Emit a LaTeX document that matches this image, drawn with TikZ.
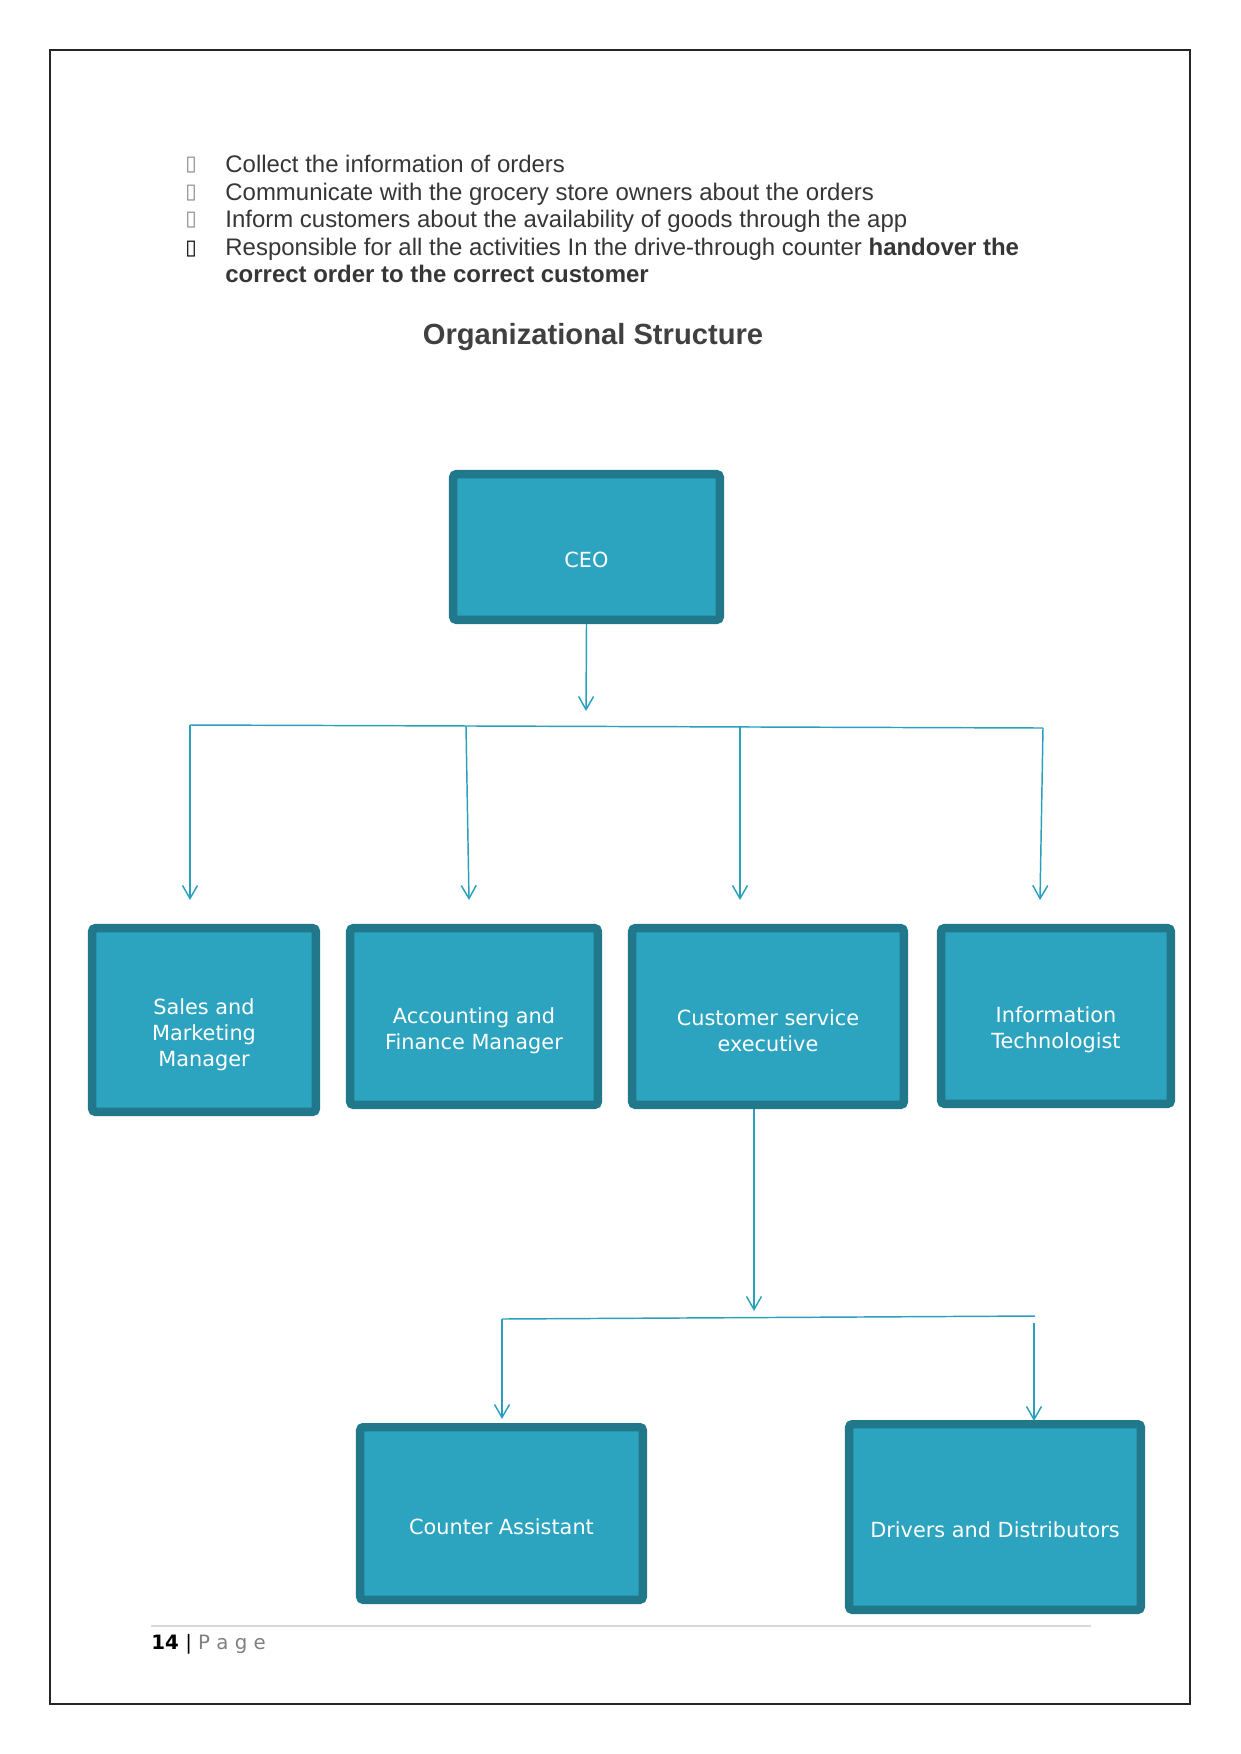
\documentclass[tikz,border=0pt]{standalone}
\usepackage{fontspec}
\setmainfont{Liberation Sans}
\newfontfamily\dejavu{DejaVu Sans}
\usetikzlibrary{arrows.meta,calc}
\definecolor{boxfill}{HTML}{2CA3BF}
\definecolor{boxedge}{HTML}{21788A}
\definecolor{linec}{HTML}{2AA0BD}
\definecolor{bodytext}{HTML}{363636}
\definecolor{titletext}{HTML}{404040}
\tikzset{
  orgbox/.style={draw=boxedge, fill=boxfill, line width=4pt, rounded corners=1.5pt, inner sep=0pt},
  boxtext/.style={text=white, align=center, inner sep=0pt, font=\dejavu\fontsize{10}{12.5}\selectfont},
  bultext/.style={anchor=base west, inner sep=0pt, text=bodytext, font=\fontsize{11.5}{13.5}\selectfont},
  bulmark/.style={anchor=base, inner sep=0pt, font=\dejavu\fontsize{10}{12}\selectfont},
  plainline/.style={draw=linec, line width=0.7pt},
  conn/.style={plainline, -{Straight Barb[length=6.3pt,width=7.2pt,line width=0.7pt]}}
}
\newcommand{\obox}[7]{%
  \node[orgbox, minimum width={(#4-#2-8.3)*0.48pt}, minimum height={(#5-#3-8.3)*0.48pt}] (#1) at ({(#2+#4)/2},{(#3+#5)/2}) {};
  \node[boxtext] (#1-t) at ($(#1.center)+(0,#7)$) {#6};
}
\begin{document}
\begin{tikzpicture}[x=0.48pt,y=-0.48pt]
\useasboundingbox (0,0) rectangle (1241,1754);
\draw[line width=0.7pt, draw=black!85] (50,50) rectangle (1190,1704);

% bullets
\node[bulmark, text=black!45] (m1) at (191,170) {▯};
\node[bulmark, text=black!45] (m2) at (191,198) {▯};
\node[bulmark, text=black!45] (m3) at (191,225) {▯};
\node[bulmark, text=black, font=\dejavu\bfseries\fontsize{10}{12}\selectfont] (m4) at (191,254) {▯};
\node[bultext] (b1) at (225,172) {Collect the information of orders};
\node[bultext] (b2) at (225,200) {Communicate with the grocery store owners about the orders};
\node[bultext] (b3) at (225,227) {Inform customers about the availability of goods through the app};
\node[bultext] (b4) at (225,255) {Responsible for all the activities In the drive-through counter \textbf{handover the}};
\node[bultext] (b5) at (225,282) {\textbf{correct order to the correct customer}};

% title
\node[inner sep=0pt, text=titletext, font=\bfseries\fontsize{14}{17}\selectfont] (title) at (593,337) {Organizational Structure};

% boxes
\obox{ceo}{449}{470}{724}{624}{CEO}{13}
\obox{sales}{88}{924}{320}{1116}{Sales and\\Marketing\\Manager}{15}
\obox{acc}{346}{924}{602}{1109}{Accounting and\\Finance Manager}{14}
\obox{cse}{628}{924}{908}{1109}{Customer service\\executive}{14}
\obox{info}{937}{924}{1175}{1108}{Information\\Technologist}{14}
\obox{counter}{356}{1423}{647}{1604}{Counter Assistant}{13}
\obox{drivers}{845}{1420}{1145}{1614}{Drivers and Distributors}{13}

% connectors top level
\coordinate (t0) at (586,711);
\draw[conn] (ceo.south) -- (t0);
\coordinate (hL) at (190,725);
\coordinate (h2) at (466,726);
\coordinate (h3) at (740,727);
\coordinate (hR) at (1043,728);
\draw[plainline] (hL) -- (hR);
\coordinate (a1) at (190,900);
\coordinate (a2) at (469,900);
\coordinate (a3) at (740,900);
\coordinate (a4) at (1040,900);
\draw[conn] (hL) -- (a1);
\draw[conn] (h2) -- (a2);
\draw[conn] (h3) -- (a3);
\draw[conn] (hR) -- (a4);

% connectors lower level
\coordinate (t1) at (754,1311);
\draw[conn] (cse.south -| t1) -- (t1);
\coordinate (gL) at (502,1319);
\coordinate (gR) at (1035,1316);
\draw[plainline] (gL) -- (gR);
\coordinate (gR2) at (1034,1323);
\coordinate (c1) at (502,1419);
\coordinate (c2) at (1034,1421);
\draw[conn] (gL) -- (c1);
\draw[conn] (gR2) -- (c2);

% footer
\coordinate (fL) at (151,1626);
\coordinate (fR) at (1091,1626);
\draw[draw=black!15, line width=0.8pt] (fL) -- (fR);
\node[anchor=base west, inner sep=0pt, font=\dejavu\fontsize{9.5}{11}\selectfont] (foot) at (151,1649) {\textbf{14} | \textcolor{black!50}{P a g e}};
\end{tikzpicture}
\end{document}
